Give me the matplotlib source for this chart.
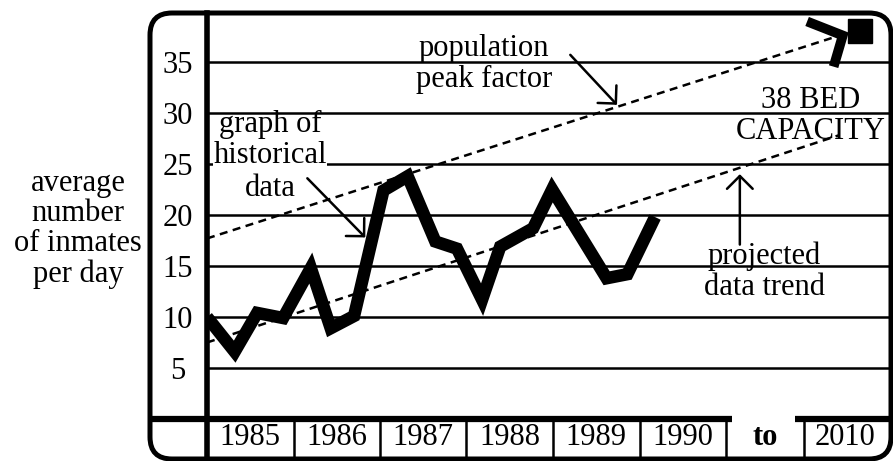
import matplotlib.pyplot as plt
from matplotlib.patches import FancyBboxPatch

plt.rcParams['font.family'] = ['Liberation Serif', 'DejaVu Serif']
plt.rcParams['font.size'] = 22

# historical data (x = years since start of 1985)
hist_x = [0.0, 0.32, 0.58, 0.88, 1.20, 1.43, 1.70, 2.04, 2.32, 2.64, 2.89,
          3.18, 3.39, 3.77, 3.99, 4.62, 4.86, 5.18]
hist_y = [10.0, 6.6, 10.4, 9.9, 14.8, 8.9, 10.1, 22.4, 23.8, 17.4, 16.7,
          11.7, 16.9, 18.7, 22.5, 13.8, 14.2, 19.8]

# dashed trend lines
trend_x = [0.0, 7.3]
trend_y = [7.5, 27.8]
peak_x = [0.0, 7.24]
peak_y = [17.7, 37.4]

# thick hook + square at 2010
hook_x = [6.99, 7.35, 7.26]
hook_y = [38.8, 37.6, 35.0]
cap_x = 7.55
cap_y = 38.0

grid_vals = [5, 10, 15, 20, 25, 30, 35]
years = ['1985', '1986', '1987', '1988', '1989', '1990']
year_pos = [0.5, 1.5, 2.5, 3.5, 4.5, 5.5]
cell_edges = [1, 2, 3, 4, 5, 6]
gap_pos = 6.45
end_edge = 6.9
end_pos = 7.38
end_year = '2010'

W, H = 893, 461
fig = plt.figure(figsize=(W / 100, H / 100), dpi=100)
ax = fig.add_axes([207 / W, 1 / H, (891 - 207) / W, (460 - 13) / H])
XMAX = (891 - 207) / 86.5
YMIN, YMAX = (419 - 460) / 10.2, (419 - 13) / 10.2
ax.set_xlim(0, XMAX)
ax.set_ylim(YMIN, YMAX)

for s in ['top', 'right', 'bottom']:
    ax.spines[s].set_visible(False)
ax.spines['left'].set_linewidth(4)
ax.set_xticks([])
ax.set_yticks(grid_vals)
ax.set_yticklabels([str(v) for v in grid_vals])
ax.tick_params(axis='y', length=0, pad=21)
for lab in ax.get_yticklabels():
    lab.set_ha('center')

# rounded outer frame
frame = FancyBboxPatch((1.50, 0.02), 7.41, 4.46,
                       boxstyle='round,pad=0,rounding_size=0.22',
                       transform=fig.dpi_scale_trans, fill=False,
                       ec='black', lw=3.6)
fig.add_artist(frame)

# grid lines and bottom strip
ax.hlines(grid_vals, 0, XMAX, color='black', lw=1.8)
ax.hlines(0, -0.66, 6.07, color='black', lw=4.5, clip_on=False)
ax.hlines(0, 6.8, XMAX, color='black', lw=4.5)
ax.vlines(cell_edges, YMIN, 0, color='black', lw=1.8)
ax.vlines(end_edge, YMIN, 0, color='black', lw=1.8)
for p, y in zip(year_pos, years):
    ax.text(p, -2.55, y, ha='center', va='baseline')
ax.text(gap_pos, -2.55, 'to', ha='center', va='baseline', fontweight='bold')
ax.text(end_pos, -2.55, end_year, ha='center', va='baseline')

# trend lines
ax.plot(trend_x, trend_y, color='black', lw=1.8, linestyle=(0, (3.2, 2.2)))
ax.plot(peak_x, peak_y, color='black', lw=1.8, linestyle=(0, (3.2, 2.2)))

# historical data
ax.plot(hist_x, hist_y, color='black', lw=9, solid_joinstyle='miter',
        solid_capstyle='butt', zorder=4)
ax.plot(hook_x, hook_y, color='black', lw=7, solid_joinstyle='miter', zorder=4)
ax.plot(cap_x, cap_y, marker='s', ms=17, color='black', zorder=4)

arrow = dict(arrowstyle='->,head_length=0.42,head_width=0.42', lw=1.8,
             color='black', shrinkA=0, shrinkB=0)
ax.text(3.2, 34.8, 'population\npeak factor', ha='center', va='center',
        linespacing=1.08)
ax.annotate('', xy=(4.74, 30.8), xytext=(4.2, 35.7), arrowprops=arrow)

# "graph of historical data" (only the middle line hides the grid)
ax.text(0.73, 28.9, 'graph of', ha='center', va='center', zorder=3)
ax.text(0.73, 25.8, 'historical', ha='center', va='center', zorder=3,
        bbox=dict(fc='white', ec='none', pad=0))
ax.text(0.73, 22.6, 'data', ha='center', va='center', zorder=3)
ax.annotate('', xy=(1.83, 17.8), xytext=(1.16, 23.6), arrowprops=arrow)

ax.text(6.98, 29.7, '38 BED\nCAPACITY', ha='center', va='center',
        linespacing=1.1)
ax.text(6.44, 14.4, 'projected\ndata trend', ha='center', va='center',
        linespacing=1.1)
ax.annotate('', xy=(6.16, 24.0), xytext=(6.16, 17.1), arrowprops=arrow)

fig.text(78 / W, 1 - 229 / H, 'average\nnumber\nof inmates\nper day',
         ha='center', va='center', linespacing=1.05)

fig.savefig('out.png', dpi=100)
